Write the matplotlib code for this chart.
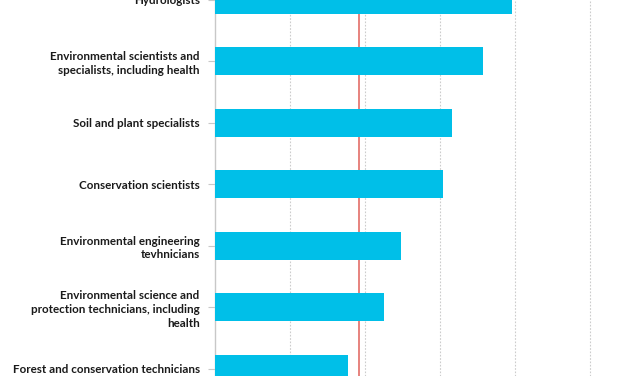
import matplotlib.pyplot as plt

# occupations, top to bottom
occupations = [
    "Hydrologists",
    "Environmental scientists and\nspecialists, including health",
    "Soil and plant specialists",
    "Conservation scientists",
    "Environmental engineering\ntevhnicians",
    "Environmental science and\nprotection technicians, including\nhealth",
    "Forest and conservation technicians",
]
growth = [19.8, 17.9, 15.8, 15.2, 12.4, 11.3, 8.9]
average = 9.6
grid_ticks = [5, 10, 15, 20, 25]

plt.rcParams['font.family'] = ['Lato', 'DejaVu Sans']

fig = plt.figure(figsize=(6.27, 3.76), dpi=100)
ax = fig.add_axes([215 / 627, 0, 412 / 627, 1])

ypos = list(range(len(occupations)))
ax.barh(ypos, growth, height=0.455, color="#00bfe8", zorder=3)
ax.axvline(average, color="#e0605a", lw=1.1, zorder=2)

ax.set_xlim(0, 27.47)
ax.set_ylim(6.122, 0.008)
ax.set_xticks(grid_ticks)
ax.tick_params(axis="x", length=0, labelbottom=False)
ax.grid(axis="x", color="#cccccc", ls=(0, (1.5, 1.5)), lw=0.8, zorder=1)

ax.set_yticks(ypos)
ax.set_yticklabels(occupations, fontsize=8.4, fontweight="bold",
                   linespacing=1.3, color="#1a1a1a")
ax.tick_params(axis="y", length=5, width=0.8, color="#c8c8c8", pad=6)
for lab in ax.get_yticklabels():
    lab.set_horizontalalignment("right")
    lab.set_multialignment("right")

for s in ["top", "right", "bottom"]:
    ax.spines[s].set_visible(False)
ax.spines["left"].set_color("#c8c8c8")
ax.spines["left"].set_linewidth(1.0)

fig.savefig("out.png", dpi=100)
